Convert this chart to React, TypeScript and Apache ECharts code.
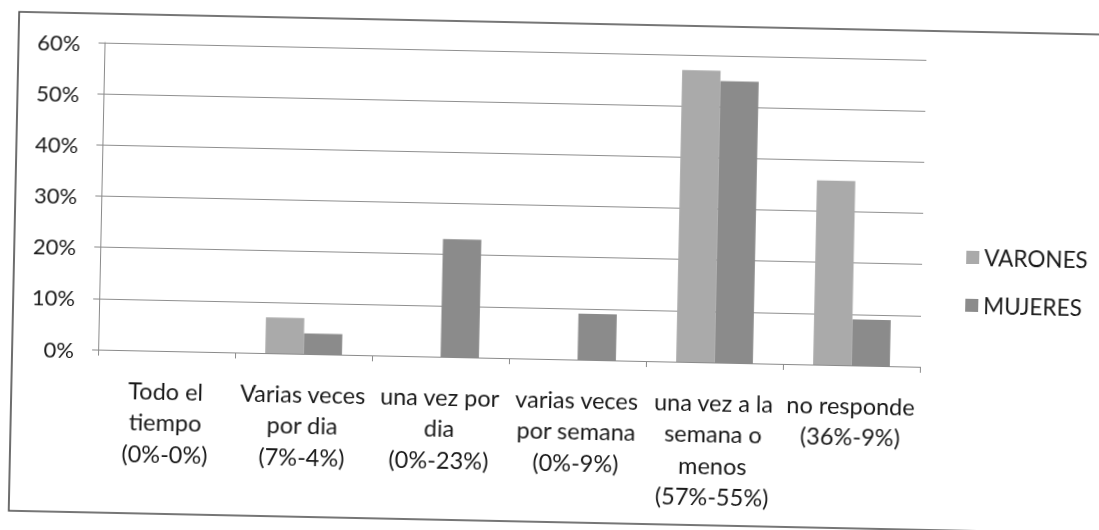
import React, { useEffect, useRef } from "react";
import * as echarts from "echarts";

const categories = [
  "Todo el\ntiempo\n(0%-0%)",
  "Varias veces\npor dia\n(7%-4%)",
  "una vez por\ndia\n(0%-23%)",
  "varias veces\npor semana\n(0%-9%)",
  "una vez a la\nsemana o\nmenos\n(57%-55%)",
  "no responde\n(36%-9%)",
];
const varones = [0, 7, 0, 0, 57, 36];
const mujeres = [0, 4, 23, 9, 55, 9];
const seriesNames = ["VARONES", "MUJERES"];

const FONT = "Lato, 'Open Sans', sans-serif";

export default function App() {
  const ref = useRef<HTMLDivElement>(null);
  useEffect(() => {
    if (!ref.current) return;
    const chart = echarts.init(ref.current, undefined, { renderer: "svg" });
    chart.setOption({
      animation: false,
      backgroundColor: "#ffffff",
      textStyle: { fontFamily: FONT },
      graphic: [
        {
          type: "rect",
          shape: { x: 14, y: 23, width: 1120, height: 499 },
          style: { fill: "none", stroke: "#4a4a4a", lineWidth: 1.6 },
          silent: true,
        },
      ],
      legend: {
        orient: "vertical",
        left: 961,
        top: 232,
        itemWidth: 13,
        itemHeight: 13,
        itemGap: 25,
        icon: "rect",
        textStyle: { fontSize: 22.5, color: "#1a1a1a", fontFamily: FONT },
        data: seriesNames,
      },
      grid: { left: 100, top: 52, right: 177, bottom: 171, containLabel: false },
      xAxis: {
        type: "category",
        data: categories,
        axisLine: { show: true, lineStyle: { color: "#8a8a8a", width: 1 } },
        axisTick: { show: true, alignWithLabel: false, length: 6, lineStyle: { color: "#8a8a8a" } },
        axisLabel: {
          interval: 0,
          margin: 24,
          fontSize: 23.5,
          lineHeight: 31.5,
          color: "#1a1a1a",
          fontFamily: FONT,
          align: "center",
        },
      },
      yAxis: {
        type: "value",
        min: 0,
        max: 60,
        interval: 10,
        axisLine: { show: true, lineStyle: { color: "#8a8a8a", width: 1 } },
        axisTick: { show: true, length: 6, lineStyle: { color: "#8a8a8a" } },
        splitLine: { show: true, lineStyle: { color: "#8f8f8f", width: 1.2 } },
        axisLabel: {
          formatter: "{value}%",
          fontSize: 22,
          margin: 24,
          color: "#1a1a1a",
          fontFamily: FONT,
        },
      },
      series: [
        {
          name: seriesNames[0],
          type: "bar",
          data: varones,
          barGap: "0%",
          barCategoryGap: "44%",
          itemStyle: { color: "#aaaaaa" },
        },
        {
          name: seriesNames[1],
          type: "bar",
          data: mujeres,
          itemStyle: { color: "#8b8b8b" },
        },
      ],
    });
    return () => chart.dispose();
  }, []);
  return (
    <div
      ref={ref}
      style={{
        position: "fixed",
        left: 0,
        top: 0,
        width: 1099,
        height: 530,
        transform: "rotate(1.2deg)",
        transformOrigin: "549.5px 265px",
      }}
    />
  );
}
